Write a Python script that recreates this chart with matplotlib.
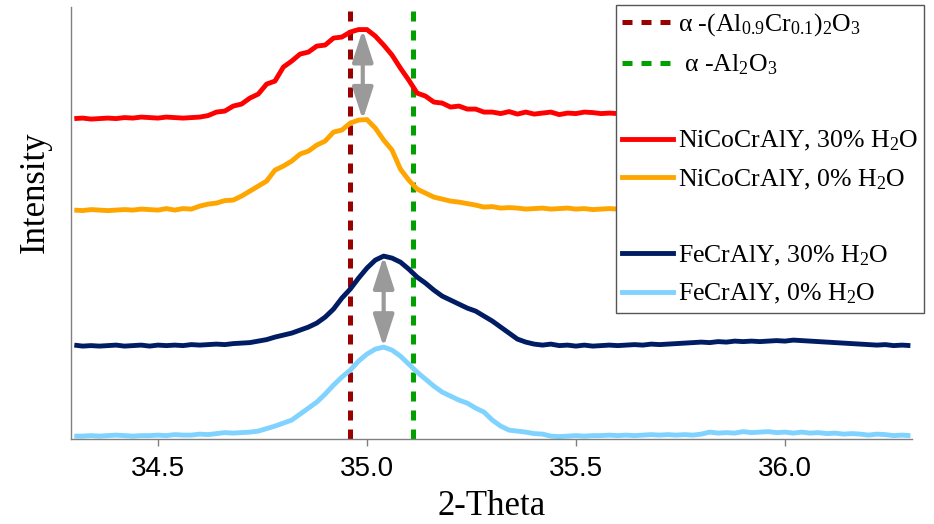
import numpy as np
import matplotlib
matplotlib.use('Agg')
from matplotlib import pyplot as plt
from matplotlib.lines import Line2D

plt.rcParams['mathtext.fontset'] = 'custom'
plt.rcParams['mathtext.rm'] = 'Liberation Serif'
plt.rcParams['mathtext.it'] = 'Liberation Serif:italic'

# 2-theta grid (0.02 deg step)
two_theta = np.round(np.arange(34.30, 36.301, 0.02), 2)

# intensities (arbitrary units, stacked with offsets)
nicocraly_30 = [320.5, 321, 320, 320.5, 321, 320.5, 321.5, 321, 322, 321.5,
                321, 322, 321.5, 321, 321.5, 322, 323.5, 327, 328, 333,
                335, 341, 345, 355, 358, 372, 378, 385, 387, 393,
                394, 401, 402, 407, 409.5, 409.5, 403, 394, 384, 371,
                359, 346, 343, 337, 336, 332, 333, 330, 330, 327,
                327, 325.5, 327.5, 325, 327, 325, 326, 327, 324.5, 326,
                325.5, 327, 326.5, 325.5, 326, 325.5, 326, 325.5]
nicocraly_0 = [229, 228.5, 229.5, 229, 228.5, 229, 229.5, 229, 230, 229.5,
               229, 230.5, 229, 230.5, 230, 233, 235, 236, 238.5, 239,
               243, 248, 253, 258, 269, 273, 278, 285, 288, 294,
               298, 307, 309, 316, 319, 319.5, 311, 299, 289, 270,
               259, 250, 246, 242, 240, 238, 237, 235.5, 234, 232,
               232.5, 231, 231.5, 231, 230, 230.5, 231, 230, 230.5, 231,
               230, 230.5, 229.5, 230, 230.5, 230, 230.5, 230]
fecraly_30 = [94, 93, 93.5, 93, 93.5, 94, 93, 93.5, 94, 93,
              94, 93.5, 94, 93.5, 94.5, 94, 94.5, 95, 94.5, 95.5,
              96, 96.5, 98, 99.5, 102, 104, 106, 109, 112, 116,
              122, 130, 141, 150, 161, 171, 179, 183, 181, 177,
              170, 162, 156, 149, 143, 139, 135, 131, 128, 123,
              118, 112, 106, 100, 97, 95, 94, 95, 93.5, 94,
              93, 94, 93, 93.5, 94, 93.5, 94, 94.5, 94, 95,
              94.5, 95, 95.5, 96, 96.5, 97, 96.5, 97.5, 97, 98,
              97.5, 98, 97.5, 98, 98.5, 98, 99, 98.5, 98, 97.5,
              97, 96.5, 96, 95.5, 95, 94.5, 94, 94.5, 93.5, 94, 93.5]
fecraly_0 = [3, 3, 3.5, 3, 3.5, 4, 3.5, 3, 3.5, 3.5,
             4, 3.5, 4.5, 4, 4, 5, 4.5, 5.5, 6.5, 6,
             6.5, 7, 8, 10.5, 13, 16, 19, 25, 31, 37,
             45, 54, 62, 69, 78, 85, 90, 92, 89, 83,
             75, 67, 60, 53, 47, 43, 39, 36, 31, 27,
             19, 13, 9, 8, 7, 5.5, 5, 3, 2.5, 3,
             3.5, 3, 3.5, 3.5, 4, 3.5, 4, 3.5, 4, 4.5,
             4, 4.5, 4, 4.5, 4, 5, 7, 6, 6.5, 6,
             7.5, 6.5, 7, 7.5, 6.5, 7, 6, 7, 6, 6.5,
             5.5, 6, 5, 5.5, 5, 4, 5, 4.5, 3.5, 4, 3.5]

series_labels = ['NiCoCrAlY, 30% H$_2$O', 'NiCoCrAlY, 0% H$_2$O',
                 'FeCrAlY, 30% H$_2$O', 'FeCrAlY, 0% H$_2$O']
series_colors = ['#ff0000', '#ffa500', '#001c63', '#80d3ff']

# reference peak positions
ref_pos = [34.96, 35.11]
ref_labels = [r'α -(Al$_{0.9}$Cr$_{0.1}$)$_2$O$_3$', r' α -Al$_2$O$_3$']
ref_colors = ['#990000', '#00a000']

# shift arrows between humid / dry peaks
peak_pos = [34.99, 35.04]

xticks = [34.5, 35.0, 35.5, 36.0]

fig = plt.figure(figsize=(9.34, 5.24), dpi=100)
ax = fig.add_axes([0.076, 0.162, 0.9005, 0.8245])

lw = 3.5
dash = (0, (2.0, 1.8))
for pos, col in zip(ref_pos, ref_colors):
    ax.axvline(pos, color=col, lw=3.6, linestyle=dash, zorder=1)

n = len(nicocraly_30)
curves = [(two_theta[:n], nicocraly_30), (two_theta[:n], nicocraly_0),
          (two_theta, fecraly_30), (two_theta, fecraly_0)]
for (xs, ys), col in zip(curves, series_colors):
    ax.plot(xs, ys, color=col, lw=lw, solid_capstyle='butt', zorder=2)

# double arrows from one peak to the other
pairs = [(curves[0], curves[1]), (curves[2], curves[3])]
for pos, (top, bot) in zip(peak_pos, pairs):
    y_top = np.interp(pos, top[0], top[1])
    y_bot = np.interp(pos, bot[0], bot[1])
    ax.annotate('', xy=(pos, y_bot), xytext=(pos, y_top),
                arrowprops=dict(arrowstyle='<|-|>,head_length=1.3,head_width=0.42',
                                color='#9a9a9a', lw=3, mutation_scale=15,
                                shrinkA=0, shrinkB=0), zorder=3)

ax.set_xlim(34.292, 36.304)
ax.set_ylim(0, 432)
ax.set_xticks(xticks)
ax.set_xticklabels([f'{t:.1f}' for t in xticks], family='Liberation Sans', fontsize=20)
ax.set_yticks([])
ax.tick_params(axis='x', length=5, width=1, color='#808080', pad=7)
for side in ['top', 'right']:
    ax.spines[side].set_visible(False)
for side in ['left', 'bottom']:
    ax.spines[side].set_color('#808080')
    ax.spines[side].set_linewidth(1)

ax.set_xlabel('2-Theta', family='Liberation Serif', fontsize=25, labelpad=6)
ax.set_ylabel('Intensity', family='Liberation Serif', fontsize=25)
ax.yaxis.set_label_coords(-0.023, 0.572)

blank = Line2D([], [], linestyle='none')
handles = [Line2D([], [], color=c, lw=3.6, linestyle=dash) for c in ref_colors]
handles += [blank]
handles += [Line2D([], [], color=c, lw=lw) for c in series_colors[:2]]
handles += [blank]
handles += [Line2D([], [], color=c, lw=lw) for c in series_colors[2:]]
labels = ref_labels + [' '] + series_labels[:2] + [' '] + series_labels[2:]

leg = fig.legend(handles, labels, loc='upper left', bbox_to_anchor=(616 / 934, 1 - 5 / 524),
                 prop={'family': 'Liberation Serif', 'size': 18.5}, frameon=True, fancybox=False,
                 framealpha=1, edgecolor='#555555', handlelength=1.95, handletextpad=0.2,
                 labelspacing=0.56, borderpad=0.25, borderaxespad=0)
leg.get_frame().set_linewidth(1)

fig.savefig('out.png', dpi=100)
